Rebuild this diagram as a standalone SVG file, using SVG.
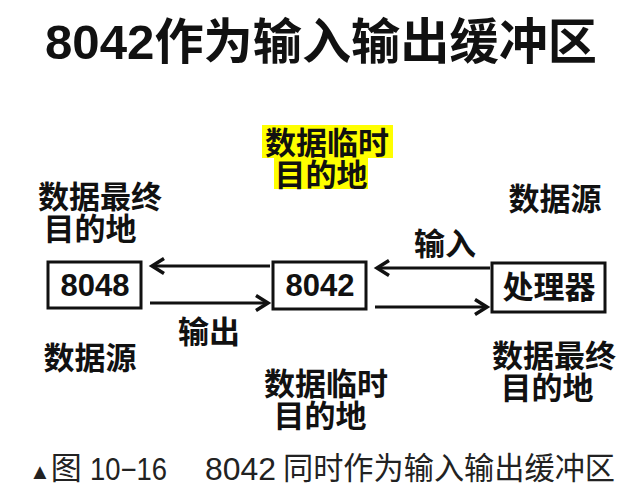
<svg xmlns="http://www.w3.org/2000/svg" width="628" height="490" viewBox="0 0 628 490">
<style>
text{font-family:"Liberation Sans","Noto Sans CJK SC",sans-serif;fill:#111;}
.t{font-size:49px;font-weight:700;}
.l{font-size:31px;font-weight:700;text-anchor:middle;}
.n{font-size:31px;font-weight:700;text-anchor:middle;}
.c{font-size:31px;font-weight:400;fill:#222;}
.box{fill:#fff;stroke:#111;stroke-width:3;}
.ar{stroke:#111;stroke-width:3.2;fill:none;marker-end:url(#ah);}
</style>
<defs>
<marker id="ah" markerWidth="10" markerHeight="10" refX="7" refY="5" orient="auto" markerUnits="userSpaceOnUse" viewBox="0 0 10 10" overflow="visible">
<polyline points="-5,-2.5 7,5 -5,12.5" fill="none" stroke="#111" stroke-width="3.5" stroke-linejoin="miter"/>
</marker>
</defs>
<rect width="628" height="490" fill="#fff"/>
<text class="t" x="45" y="59" textLength="552" lengthAdjust="spacingAndGlyphs">8042作为输入输出缓冲区</text>

<g id="label-temp-top">
<rect x="262" y="125" width="131" height="33" fill="#ffff00"/>
<rect x="274" y="157" width="94" height="32" fill="#ffff00"/>
<text class="l" x="327" y="154">数据临时</text>
<text class="l" x="321" y="186">目的地</text>
</g>
<g id="label-dest-left">
<text class="l" x="100" y="208">数据最终</text>
<text class="l" x="90" y="240">目的地</text>
</g>
<g id="label-src-right">
<text class="l" x="555" y="210">数据源</text>
</g>

<g id="connectors">
<line class="ar" x1="270" y1="266" x2="152" y2="266"/>
<line class="ar" x1="150" y1="303" x2="268" y2="303"/>
<line class="ar" x1="490" y1="268" x2="377" y2="268"/>
<line class="ar" x1="375" y1="307" x2="487" y2="307"/>
<text class="l" x="445" y="255">输入</text>
<text class="l" x="209" y="343">输出</text>
</g>

<g id="node-8048">
<rect class="box" x="48" y="262" width="93" height="46"/>
<text class="n" x="95" y="296">8048</text>
</g>
<g id="node-8042">
<rect class="box" x="273" y="262" width="93" height="47"/>
<text class="n" x="320" y="296">8042</text>
</g>
<g id="node-cpu">
<rect class="box" x="492" y="263" width="113" height="49"/>
<text class="n" x="549" y="298">处理器</text>
</g>

<g id="label-src-left">
<text class="l" x="90" y="369">数据源</text>
</g>
<g id="label-temp-bottom">
<text class="l" x="326" y="395">数据临时</text>
<text class="l" x="320" y="427">目的地</text>
</g>
<g id="label-dest-right">
<text class="l" x="554" y="367">数据最终</text>
<text class="l" x="547" y="399">目的地</text>
</g>

<g id="caption">
<text class="c" x="29" y="479"><tspan style="font-size:22px">▲</tspan><tspan>图</tspan></text>
<text class="c" x="90" y="480" textLength="77" lengthAdjust="spacingAndGlyphs">10−16</text>
<text class="c" x="205" y="480" textLength="71" lengthAdjust="spacingAndGlyphs">8042</text>
<text class="c" x="283" y="479" textLength="332" lengthAdjust="spacingAndGlyphs">同时作为输入输出缓冲区</text>
</g>
</svg>
